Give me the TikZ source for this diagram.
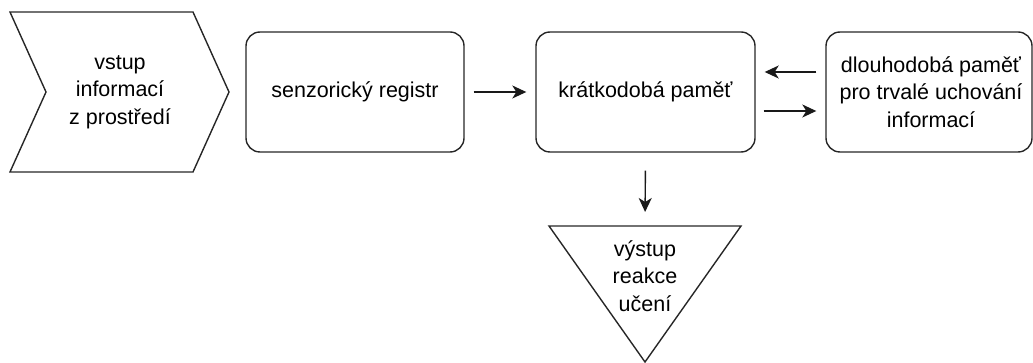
\documentclass[tikz,border=0pt]{standalone}
\usepackage{fontspec}
\setmainfont{Liberation Sans}
\usetikzlibrary{arrows.meta,positioning}
\tikzset{
  shp/.style={draw=black!85, line width=1.4pt, line join=miter},
  rbox/.style={shp, rounded corners=14pt, minimum width=218pt, minimum height=120pt, inner sep=0pt, align=center},
  lbl/.style={align=center, inner sep=0pt, font=\fontsize{21.5}{27.5}\selectfont},
  arr/.style={line width=1.4pt, draw=black!90, -{Stealth[length=14pt,width=13pt,inset=4pt]}},
}
\begin{document}
\begin{tikzpicture}[x=1pt,y=-1pt]
\useasboundingbox (0,0) rectangle (1033,363);
% input chevron
\draw[shp] (10,12) -- (193,12) -- (229,92) -- (193,172) -- (10,172) -- (46,92) -- cycle;
\node[lbl] (vstup) at (120,92) {vstup\\informací\\z prostředí};
% boxes
\node[rbox, lbl, minimum width=218pt, minimum height=120pt] (sen) at (355,92) {senzorický registr};
\node[rbox, lbl, minimum width=219pt, minimum height=120pt] (kra) at (645.5,92) {krátkodobá paměť};
\node[rbox, minimum width=206pt, minimum height=120pt] (dlo) at (929,92) {};
\node[lbl] (dlotext) at (931,92) {dlouhodobá paměť\\pro trvalé uchování\\informací};
% output triangle
\draw[shp] (549,226) -- (741,226) -- (645,362) -- cycle;
\coordinate (outtop) at (645,226);
\node[lbl] (vys) at (645,276) {výstup\\reakce\\učení};
% connectors
\draw[arr, shorten <=9pt, shorten >=9pt] (sen.east) -- (kra.west);
\draw[arr, shorten <=9pt, shorten >=9pt] ([yshift=20pt]dlo.west) -- ([yshift=20pt]kra.east);
\draw[arr, shorten <=8pt, shorten >=9pt] ([yshift=-19pt]kra.east) -- ([yshift=-19pt]dlo.west);
\draw[arr, shorten <=18pt, shorten >=14pt] (kra.south) -- (outtop);
\end{tikzpicture}
\end{document}
